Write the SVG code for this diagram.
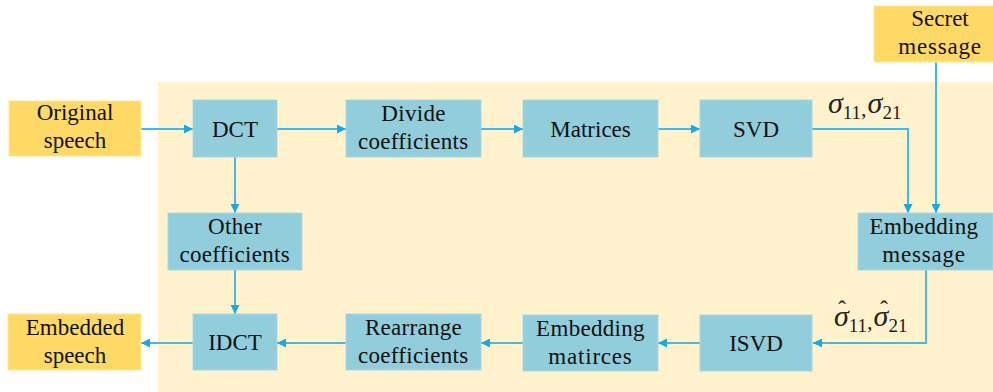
<svg xmlns="http://www.w3.org/2000/svg" width="993" height="392" viewBox="0 0 993 392">
  <style>
    .io { fill: #FFD966; stroke: #FFE699; stroke-width: 1; }
    .proc { fill: #92CDDC; stroke: #A8D8E5; stroke-width: 1; }
    .wire { fill: none; stroke: #45B8EA; stroke-width: 2; }
  </style>
  <defs>
    <marker id="arrow" viewBox="0 0 10 10" refX="10" refY="5" markerWidth="9" markerHeight="9" markerUnits="userSpaceOnUse" orient="auto">
      <path d="M0,0 L10,5 L0,10 Z" fill="#19A9E6"/>
    </marker>
  </defs>

  <rect width="993" height="392" fill="#FFFFFF"/>
  <!-- embedding stage background -->
  <rect x="158" y="82" width="835" height="310" fill="#FFF2CC"/>

  <g id="connectors">
    <path class="wire" d="M141,129 H193" marker-end="url(#arrow)"/>
    <path class="wire" d="M277,129 H346" marker-end="url(#arrow)"/>
    <path class="wire" d="M481,129 H523" marker-end="url(#arrow)"/>
    <path class="wire" d="M658,129 H700" marker-end="url(#arrow)"/>
    <path class="wire" d="M812,129 H908 V213" marker-end="url(#arrow)"/>
    <path class="wire" d="M936,62 V213" marker-end="url(#arrow)"/>
    <path class="wire" d="M926,270 V343 H813" marker-end="url(#arrow)"/>
    <path class="wire" d="M700,343 H658" marker-end="url(#arrow)"/>
    <path class="wire" d="M523,343 H481" marker-end="url(#arrow)"/>
    <path class="wire" d="M346,343 H277" marker-end="url(#arrow)"/>
    <path class="wire" d="M193,343 H141" marker-end="url(#arrow)"/>
    <path class="wire" d="M235,157 V213" marker-end="url(#arrow)"/>
    <path class="wire" d="M235,270 V314" marker-end="url(#arrow)"/>
  </g>

  <!-- node boxes -->
  <g id="original-speech"><rect class="io" x="9" y="101" width="132" height="55"/></g>
  <g id="dct"><rect class="proc" x="193" y="100" width="84" height="57"/></g>
  <g id="divide-coefficients"><rect class="proc" x="346" y="100" width="135" height="57"/></g>
  <g id="matrices"><rect class="proc" x="523" y="100" width="135" height="57"/></g>
  <g id="svd"><rect class="proc" x="700" y="100" width="112" height="57"/></g>
  <g id="secret-message"><rect class="io" x="874" y="6" width="120" height="56"/></g>
  <g id="embedding-message"><rect class="proc" x="858" y="213" width="135" height="57"/></g>
  <g id="isvd"><rect class="proc" x="700" y="315" width="112" height="56"/></g>
  <g id="embedding-matrices"><rect class="proc" x="523" y="315" width="135" height="56"/></g>
  <g id="rearrange-coefficients"><rect class="proc" x="346" y="314" width="135" height="56"/></g>
  <g id="idct"><rect class="proc" x="193" y="314" width="84" height="56"/></g>
  <g id="other-coefficients"><rect class="proc" x="168" y="213" width="134" height="57"/></g>
  <g id="embedded-speech"><rect class="io" x="8" y="314" width="133" height="56"/></g>

  <!-- node captions; x is the left edge of each centred line -->
  <text x="36.7" y="120" font-family="Liberation Serif" font-size="23" fill="#111">Original</text>
  <text x="43.7" y="148" font-family="Liberation Serif" font-size="23" fill="#111">speech</text>
  <text x="212" y="137" font-family="Liberation Serif" font-size="23" fill="#111">DCT</text>
  <text x="381.3" y="121" font-family="Liberation Serif" font-size="23" fill="#111" letter-spacing="0.3">Divide</text>
  <text x="358" y="149" font-family="Liberation Serif" font-size="23" fill="#111" letter-spacing="0.3">coefficients</text>
  <text x="550.3" y="137" font-family="Liberation Serif" font-size="23" fill="#111">Matrices</text>
  <text x="733" y="137" font-family="Liberation Serif" font-size="23" fill="#111">SVD</text>
  <text x="911.3" y="26" font-family="Liberation Serif" font-size="23" fill="#111">Secret</text>
  <text x="898.2" y="54" font-family="Liberation Serif" font-size="23" fill="#111" letter-spacing="0.8">message</text>
  <text x="869.6" y="234" font-family="Liberation Serif" font-size="23" fill="#111" letter-spacing="0.3">Embedding</text>
  <text x="882.2" y="262" font-family="Liberation Serif" font-size="23" fill="#111" letter-spacing="0.8">message</text>
  <text x="729.2" y="351" font-family="Liberation Serif" font-size="23" fill="#111">ISVD</text>
  <text x="536.1" y="336" font-family="Liberation Serif" font-size="23" fill="#111" letter-spacing="0.3">Embedding</text>
  <text x="548.3" y="364" font-family="Liberation Serif" font-size="23" fill="#111" letter-spacing="0.8">matirces</text>
  <text x="364.9" y="335" font-family="Liberation Serif" font-size="23" fill="#111" letter-spacing="0.3">Rearrange</text>
  <text x="358" y="363" font-family="Liberation Serif" font-size="23" fill="#111" letter-spacing="0.3">coefficients</text>
  <text x="208.2" y="350" font-family="Liberation Serif" font-size="23" fill="#111">IDCT</text>
  <text x="208.1" y="234" font-family="Liberation Serif" font-size="23" fill="#111" letter-spacing="0.3">Other</text>
  <text x="179.5" y="262" font-family="Liberation Serif" font-size="23" fill="#111" letter-spacing="0.3">coefficients</text>
  <text x="25.8" y="335" font-family="Liberation Serif" font-size="23" fill="#111">Embedded</text>
  <text x="43.7" y="363" font-family="Liberation Serif" font-size="23" fill="#111">speech</text>

  <!-- singular value labels on the SVD output and ISVD input -->
  <g id="sigma-label">
    <text x="828" y="113" font-family="Liberation Serif" font-size="30" fill="#222"><tspan font-style="italic">σ</tspan><tspan font-size="19" dy="6">11</tspan><tspan font-size="22" dy="-3">,</tspan><tspan font-style="italic" dx="1" dy="-3">σ</tspan><tspan font-size="19" dy="6">21</tspan></text>
  </g>
  <g id="sigma-hat-label">
    <text x="834" y="326" font-family="Liberation Serif" font-size="30" fill="#222"><tspan font-style="italic">σ</tspan><tspan font-size="19" dy="6">11</tspan><tspan font-size="22" dy="-3">,</tspan><tspan font-style="italic" dx="1" dy="-3">σ</tspan><tspan font-size="19" dy="6">21</tspan><tspan font-size="24" x="838" y="317">ˆ</tspan><tspan font-size="24" x="880" y="317">ˆ</tspan></text>
  </g>
</svg>
